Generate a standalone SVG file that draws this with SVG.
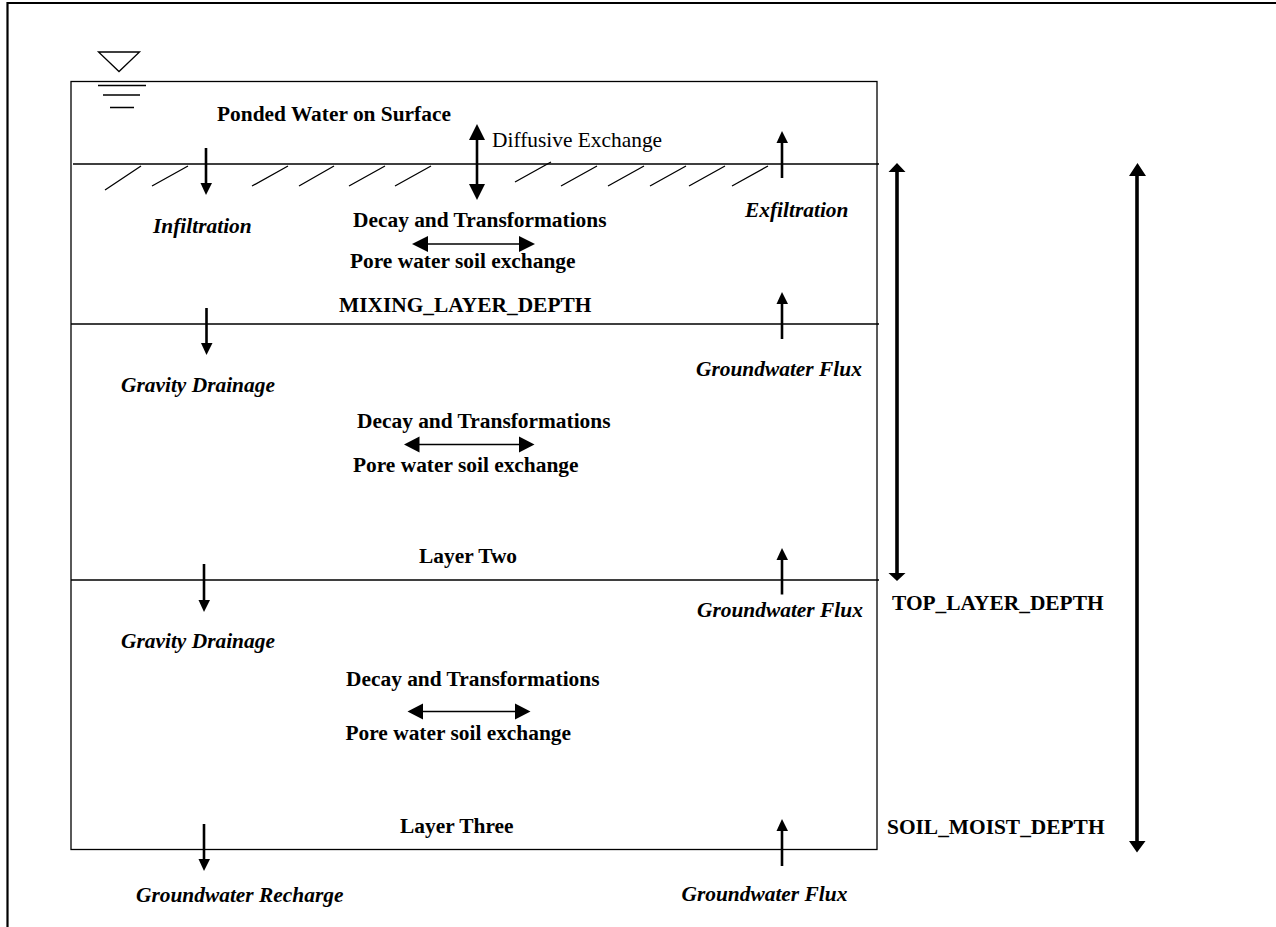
<svg xmlns="http://www.w3.org/2000/svg" width="1276" height="927" viewBox="0 0 1276 927">
<style>
text{font-family:"Liberation Serif","Times New Roman",serif;font-size:21.4px;fill:#000}
.b{font-weight:bold}
.i{font-weight:bold;font-style:italic}
.l{stroke:#000;fill:none;stroke-width:1.3}
.a{stroke:#000;stroke-width:2.6;fill:none}
.e{stroke:#000;stroke-width:1.7;fill:none}
.k{stroke:#000;stroke-width:3.6;fill:none}
.h{fill:#000}
</style>
<rect width="1276" height="927" fill="#fff"/>
<path id="frame" fill="none" stroke="#000" stroke-width="2.2" d="M7.500 927V3H1276"/>
<g id="soil-column">
<rect class="l" x="71" y="81.500" width="806" height="768"/>
<path class="l" d="M73 164H879M71 324H879M71 580H879"/>
</g>
<g id="water-symbol">
<path class="l" d="M98.500 52H139.500L119 71.500Z"/>
<path class="l" d="M98 85.500H146M103 95H140M110 107.500H134"/>
</g>
<g id="hatch">
<path class="l" d="M105 190L141 166M152 186L188 166M252 186L288 166M299 186L334 166M349 186L385 166M395 186L431 166M515 182L551 162M561 186L597 166M608 186L644 166M650 186L686 166M689 186L725 166M732 186L768 166"/>
</g>
<g id="connectors">
<g id="arrow-infiltration"><path class="a" d="M206 148V186"/><path class="h" d="M200.500 183H212L206 195Z"/></g>
<g id="arrow-diffusive"><path class="a" d="M477 136V186"/><path class="h" d="M469 140L477 124L485 140ZM469 184H485L477 200Z"/></g>
<g id="arrow-exfiltration"><path class="a" d="M782 140V178"/><path class="h" d="M776.500 143L782 131L788 143Z"/></g>
<g id="arrow-exchange-1"><path class="e" d="M425 244H522"/><path class="h" d="M412 244L428 236V252ZM535 244L519 236V252Z"/></g>
<g id="arrow-gravity-1"><path class="a" d="M206.500 308V346"/><path class="h" d="M201 343H212.500L206.500 355Z"/></g>
<g id="arrow-flux-1"><path class="a" d="M782 300V339"/><path class="h" d="M776.500 304L782 292L788 304Z"/></g>
<g id="arrow-exchange-2"><path class="e" d="M416 444.500H522"/><path class="h" d="M404 444.500L419.500 436.500V452.500ZM534.500 444.500L519 436.500V452.500Z"/></g>
<g id="arrow-flux-2"><path class="a" d="M782 556V594.500"/><path class="h" d="M776.500 560L782 548L788 560Z"/></g>
<g id="arrow-gravity-2"><path class="a" d="M204 564V603"/><path class="h" d="M198.500 600H210L204 612Z"/></g>
<g id="arrow-exchange-3"><path class="e" d="M421 711.500H517"/><path class="h" d="M407.500 711.500L423 703.500V719.500ZM530.500 711.500L515 703.500V719.500Z"/></g>
<g id="arrow-recharge"><path class="a" d="M204 824V862"/><path class="h" d="M198.500 859H210L204 871Z"/></g>
<g id="arrow-flux-3"><path class="a" d="M782 827V866"/><path class="h" d="M776.500 831L782 819L788 831Z"/></g>
<g id="arrow-top-depth"><path class="k" d="M897 170V574"/><path class="h" d="M888.500 172L897 163L905.500 172ZM888.500 573H905.500L897 581Z"/></g>
<g id="arrow-soil-depth"><path class="k" d="M1137 172V842"/><path class="h" d="M1129 176L1137.500 163L1146 176ZM1129 841H1145.500L1137 852.500Z"/></g>
</g>
<g id="labels">
<text class="b" x="217" y="120.700">Ponded Water on Surface</text>
<text x="492" y="146.700">Diffusive Exchange</text>
<text class="b" x="353" y="226.700">Decay and Transformations</text>
<text class="i" x="153" y="232.700">Infiltration</text>
<text class="i" x="745" y="216.700">Exfiltration</text>
<text class="b" x="350" y="268">Pore water soil exchange</text>
<text class="b" x="339" y="311.700">MIXING_LAYER_DEPTH</text>
<text class="i" x="121" y="391.700">Gravity Drainage</text>
<text class="i" x="696" y="375.700">Groundwater Flux</text>
<text class="b" x="357" y="427.700">Decay and Transformations</text>
<text class="b" x="353" y="472">Pore water soil exchange</text>
<text class="b" x="419" y="562.500">Layer Two</text>
<text class="i" x="121" y="648">Gravity Drainage</text>
<text class="i" x="697" y="616.500">Groundwater Flux</text>
<text class="b" x="346" y="686">Decay and Transformations</text>
<text class="b" x="345.500" y="740">Pore water soil exchange</text>
<text class="b" x="400" y="832.500">Layer Three</text>
<text class="i" x="136" y="901.500">Groundwater Recharge</text>
<text class="i" x="681.500" y="901">Groundwater Flux</text>
<text class="b" x="892" y="609.500">TOP_LAYER_DEPTH</text>
<text class="b" x="887" y="833.500">SOIL_MOIST_DEPTH</text>
</g>
</svg>
